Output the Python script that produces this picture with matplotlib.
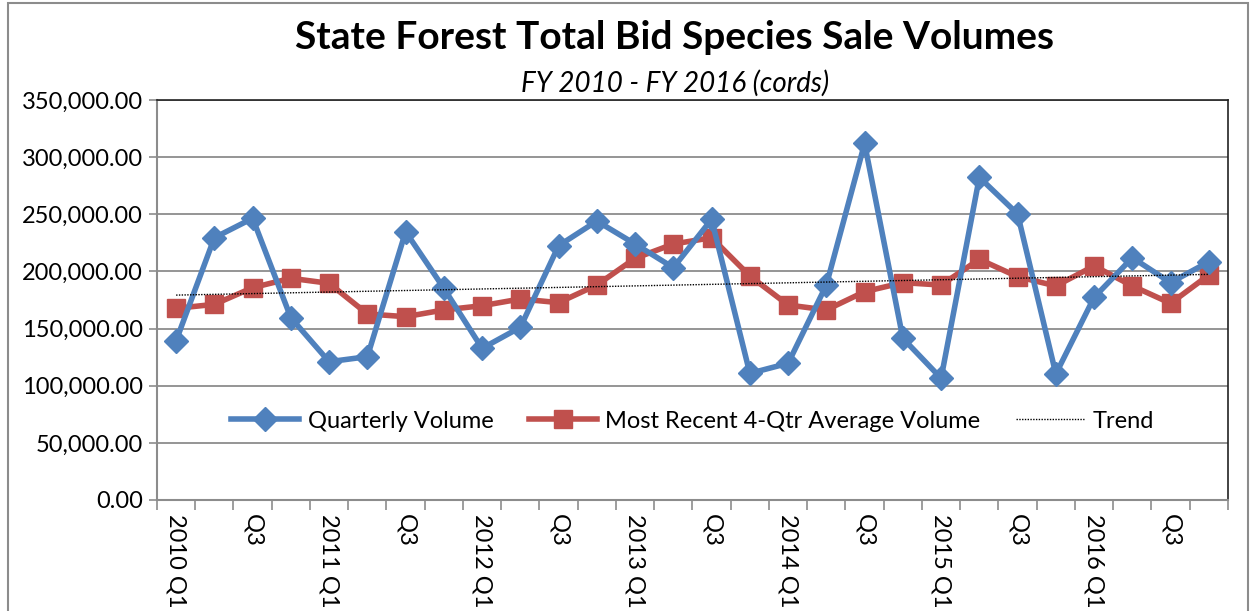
import numpy as np
import matplotlib.pyplot as plt
from matplotlib.patches import Rectangle

plt.rcParams['font.family'] = ['Lato', 'DejaVu Sans']

# --- data (cords) ---
quarters = [f"{y} Q{q}" for y in range(2010, 2017) for q in range(1, 5)]
quarterly = [139400, 229500, 246500, 159500, 121000, 125400, 234800, 185200,
             132700, 151100, 222500, 244100, 224000, 203300, 245600, 110800,
             119600, 188100, 312000, 141500, 106500, 282300, 250300, 110300,
             177300, 212000, 190200, 208500]
avg4 = [167700, 171200, 185800, 194000, 189600, 162800, 160400, 166300,
        170000, 175900, 172700, 188100, 211500, 224000, 229500, 196000,
        170600, 166300, 182300, 190200, 188100, 210600, 195400, 187300,
        204800, 187300, 172100, 196900]

tick_labels = []
for i, q in enumerate(quarters):
    if i % 4 == 0:
        tick_labels.append(q)
    elif i % 4 == 2:
        tick_labels.append("Q3")
    else:
        tick_labels.append("")

x = np.arange(len(quarters))
slope, intercept = np.polyfit(x, quarterly, 1)
trend = slope * x + intercept

blue = '#4F81BD'
red = '#C0504D'

fig = plt.figure(figsize=(12.52, 6.11), dpi=100)
ax = fig.add_axes([0.1254, 0.1817, 0.8554, 0.6546])

ax.plot(x, quarterly, color=blue, lw=4, marker='D', ms=12,
        label='Quarterly Volume', zorder=4)
ax.plot(x, avg4, color=red, lw=4, marker='s', ms=12.5,
        label='Most Recent 4-Qtr Average Volume', zorder=3)
ax.plot(x, trend, color='black', lw=1, ls=(0, (1, 1)), label='Trend', zorder=5)

ax.set_xlim(-0.5, len(x) - 0.5)
ax.set_ylim(0, 350000)
ax.set_yticks(np.arange(0, 350001, 50000))
ax.set_yticklabels([f"{v:,.2f}" for v in np.arange(0, 350001, 50000)], fontsize=17)
ax.yaxis.grid(True, color='#8c8c8c', lw=1.3)
ax.set_axisbelow(True)

ax.set_xticks(x)
ax.set_xticklabels(tick_labels, rotation=270, fontsize=17, va='top', ha='center')
ax.tick_params(axis='x', length=0, pad=10)
ax.set_xticks(np.arange(-0.5, len(x), 1), minor=True)
ax.tick_params(axis='x', which='minor', length=7, color='#8c8c8c', width=1.2)
ax.tick_params(axis='y', length=6, color='#8c8c8c', width=1.2, pad=4)

for side in ['left', 'bottom']:
    ax.spines[side].set_color('#8c8c8c')
    ax.spines[side].set_linewidth(1.5)
for side in ['top', 'right']:
    ax.spines[side].set_color('#222222')
    ax.spines[side].set_linewidth(1.2)

leg = ax.legend(loc='center', bbox_to_anchor=(0.5, 0.197), ncol=3, frameon=False,
                fontsize=17, handlelength=2.9, columnspacing=1.5, handletextpad=0.35)

fig.text(0.539, 0.938, 'State Forest Total Bid Species Sale Volumes',
         ha='center', va='center', fontsize=28, fontweight='bold')
fig.text(0.539, 0.864, 'FY 2010 - FY 2016 (cords)', ha='center', va='center',
         fontsize=20, style='italic')

fig.patches.append(Rectangle((0.006, -0.1), 0.991, 1.095, transform=fig.transFigure,
                             fill=False, edgecolor='#8c8c8c', lw=1.5))

fig.savefig('out.png', dpi=100)
